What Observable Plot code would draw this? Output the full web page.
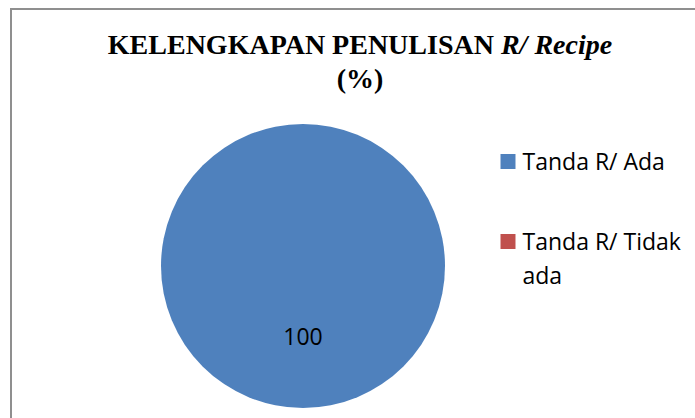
<!DOCTYPE html>
<html><head><meta charset="utf-8">
<script src="https://cdn.jsdelivr.net/npm/d3@7"></script>
<script src="https://cdn.jsdelivr.net/npm/@observablehq/plot@0.6"></script>
<style>
body{margin:0;background:#fff;}
#wrap{position:relative;width:695px;height:418px;overflow:hidden;background:#fff;}
#box{position:absolute;left:10px;top:8px;width:800px;height:600px;border-left:2px solid #8f8f8f;border-top:2px solid #8f8f8f;}
#chart{position:absolute;left:0;top:0;}
#title{position:absolute;left:0;top:27.5px;width:720px;text-align:center;font-family:"Liberation Serif","Times New Roman",serif;font-weight:bold;font-size:28px;line-height:34px;color:#000;}
</style></head>
<body>
<div id="wrap"><div id="box"></div><div id="chart"></div>
<div id="title">KELENGKAPAN PENULISAN <i>R/ Recipe</i><br>(%)</div></div>
<script>
const categories = ["Tanda R/ Ada", "Tanda R/ Tidak ada"];
const values = [100, 0];
const colors = ["#4F81BD", "#C0504D"];
const data = categories.map((c, i) => ({category: c, value: values[i]}));

const pieMark = (index, scales) => {
  const cx = 303, cy = 266, r = 142;
  const g = d3.create("svg:g").attr("transform", `translate(${cx},${cy})`);
  const arcs = d3.pie().value(d => d.value).sort(null)(data).filter(a => a.data.value > 0);
  const arc = d3.arc().innerRadius(0).outerRadius(r);
  g.selectAll("path").data(arcs).join("path")
    .attr("d", arc)
    .attr("fill", a => scales.color(a.data.category));
  g.selectAll("text").data(arcs).join("text")
    .attr("x", a => arc.centroid(a)[0])
    .attr("y", a => arc.centroid(a)[1])
    .attr("dy", "0.35em")
    .attr("text-anchor", "middle")
    .attr("font-family", "'Open Sans', sans-serif")
    .attr("font-size", 23)
    .attr("fill", "#000")
    .text(a => a.data.value);
  return g.node();
};

const plot = Plot.plot({
  width: 695,
  height: 418,
  margin: 0,
  style: {background: "transparent", overflow: "visible"},
  y: {type: "point", domain: categories, range: [161, 241], padding: 0, axis: null},
  color: {domain: categories, range: colors},
  marks: [
    pieMark,
    Plot.dot(data, {y: "category", fill: "category", symbol: "square", r: 8.46, frameAnchor: "left", dx: 507.5}),
    Plot.text(data, {y: "category", text: "category", frameAnchor: "left", dx: 522, dy: -16,
      textAnchor: "start", lineAnchor: "top", lineWidth: 7.5, lineHeight: 1.478,
      fontSize: 23, fontFamily: "Open Sans", fill: "#000"})
  ]
});
document.getElementById("chart").appendChild(plot);
</script>
</body></html>
